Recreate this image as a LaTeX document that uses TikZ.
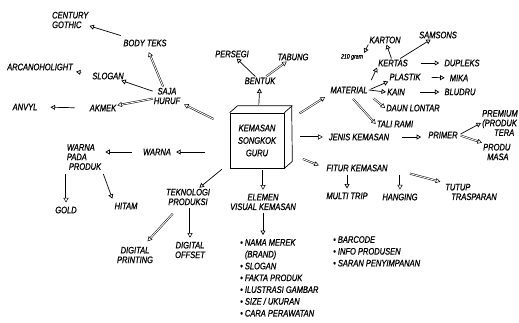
\documentclass[tikz,border=0pt]{standalone}
\usepackage{fontspec}
\setmainfont[FakeStretch=0.8, FakeBold=0.8]{Liberation Sans}
\usetikzlibrary{arrows.meta,calc}
\begin{document}
\begin{tikzpicture}[x=1pt,y=-1pt,
  t/.style={font=\fontsize{9.4}{9.6}\selectfont\itshape, inner sep=1pt, align=center},
  tl/.style={t, align=left},
  ha/.style={-{Triangle[open,length=4.5pt,width=5pt]}, line width=0.7pt},
  da/.style={ha, double, double distance=0.9pt, line width=0.5pt},
]
\useasboundingbox (0,0) rectangle (519,322);
% central box
\node[draw, line width=0.7pt, minimum width=54pt, minimum height=55pt, inner sep=0pt,
      font=\fontsize{9.4}{12.5}\selectfont\itshape, align=center] (box) at (257,140.5)
      {KEMASAN\\SONGKOK\\GURU};
\draw[line width=0.7pt] (box.north west) -- ++(8,-7) -- ++(54,0) -- ($(box.south east)+(8,-7)$) -- (box.south east);
\draw[line width=0.7pt] (box.north east) -- ++(8,-7);
% left-top branch
\node[tl, anchor=west] (century) at (51,20) {CENTURY\\GOTHIC};
\node[t] (body) at (145,43) {BODY TEKS};
\node[t] (arcano) at (40,67) {ARCANOHOLIGHT};
\node[t] (slogana) at (108,76) {SLOGAN};
\node[t] (saja) at (167,96) {SAJA\\HURUF};
\node[t] (anvyl) at (25,107) {ANVYL};
\node[t] (akmek) at (103,108) {AKMEK};
% top
\node[t] (persegi) at (232,54) {PERSEGI};
\node[t] (tabung) at (293,57) {TABUNG};
\node[t] (bentuk) at (260,81) {BENTUK};
% material branch
\node[t] (material) at (349,90) {MATERIAL};
\node[t] (karton) at (385,40) {KARTON};
\node[t] (samsons) at (438,35) {SAMSONS};
\node[t, font=\fontsize{6.5}{6.5}\selectfont\itshape] (gram) at (352,57) {210 gram};
\node[t] (kertas) at (393,63) {KERTAS};
\node[t] (dupleks) at (462,63) {DUPLEKS};
\node[t] (plastik) at (405,77) {PLASTIK};
\node[t] (mika) at (459,78) {MIKA};
\node[t] (kain) at (396,92) {KAIN};
\node[t] (bludru) at (460,92) {BLUDRU};
\node[t] (daun) at (413,108) {DAUN LONTAR};
\node[t] (tali) at (395,124) {TALI RAMI};
% jenis branch
\node[t] (jenis) at (359,137) {JENIS KEMASAN};
\node[t] (primer) at (443,135) {PRIMER};
\node[tl, anchor=west] (premium) at (481,123) {PREMIUM\\(PRODUK\\\hspace*{12pt}TERA};
\node[tl, anchor=west] (produk) at (482,152) {PRODU\\\hspace*{4pt}MASA};
% fitur branch
\node[t] (fitur) at (357,168) {FITUR KEMASAN};
\node[t] (multi) at (347,196) {MULTI TRIP};
\node[t] (hanging) at (400,197) {HANGING};
\node[tl] (tutup) at (471,192) {TUTUP\\\hspace*{6pt}TRASPARAN};
% elemen branch
\node[t] (elemen) at (263,202) {ELEMEN\\VISUAL KEMASAN};
\node[tl, anchor=north west, font=\fontsize{9.4}{11.8}\selectfont\itshape] (lista) at (239,238)
  {• NAMA MEREK\\\phantom{• }(BRAND)\\• SLOGAN\\• FAKTA PRODUK\\• ILUSTRASI GAMBAR\\• SIZE / UKURAN\\• CARA PERAWATAN};
\node[tl, anchor=north west, font=\fontsize{9.4}{11.8}\selectfont\itshape] (listb) at (332,235)
  {• BARCODE\\• INFO PRODUSEN\\• SARAN PENYIMPANAN};
% teknologi branch
\node[t] (tekno) at (188,197) {TEKNOLOGI\\PRODUKSI};
\node[t] (dprint) at (135,255) {DIGITAL\\PRINTING};
\node[t] (doffset) at (190,250) {DIGITAL\\OFFSET};
% warna branch
\node[t] (warna) at (157,152) {WARNA};
\node[tl] (wpp) at (84,157) {WARNA\\PADA\\\hspace*{2pt}PRODUK};
\node[t] (gold) at (66,210) {GOLD};
\node[t] (hitam) at (126,206) {HITAM};

% arrows left-top
\draw[ha, shorten <=10pt] (body) -- (century);
\draw[da, shorten >=5pt] (saja) -- (body);
\draw[ha] (saja) -- (slogana);
\draw[da] (saja) -- (akmek);
\draw[ha, shorten <=10pt, shorten >=2pt] (slogana) -- (arcano.south east);
\draw[ha, shorten <=14pt, shorten >=12pt] (akmek.west) -- (anvyl.east);
\draw[da, shorten <=18pt, shorten >=3pt] (box) -- (saja);
% top
\draw[ha, shorten <=8pt, shorten >=3pt] (box) -- (bentuk);
\draw[ha] (bentuk) -- (persegi);
\draw[da] (bentuk) -- (tabung);
% material
\draw[da, shorten <=18pt, shorten >=5pt] (box) -- (material.south west);
\draw[ha, shorten <=6pt] (material.north east) -- (kertas.south west);
\draw[ha] (kertas) -- (karton);
\draw[ha] (karton.south west) -- (gram.north east);
\draw[ha] (kertas) -- (samsons);
\draw[ha, shorten <=12pt, shorten >=4pt] (kertas.east) -- (dupleks.west);
\draw[ha, shorten <=2pt] (material.east) -- (plastik.south west);
\draw[ha, shorten <=10pt, shorten >=4pt] (plastik.east) -- (mika.west);
\draw[ha] (material.east) -- (kain.west);
\draw[ha, shorten <=14pt, shorten >=4pt] (kain.east) -- (bludru.west);
\draw[da, shorten <=6pt] (material.south east) -- (daun.west);
\draw[da, shorten <=6pt] (material.south) -- (tali.west);
% jenis
\draw[da, shorten <=16pt, shorten >=5pt] (box.east |- jenis) -- (jenis.west);
\draw[ha, shorten <=12pt, shorten >=6pt] (jenis.east) -- (primer.west |- jenis);
\draw[ha, shorten <=2pt] (primer.east) -- (premium.west);
\draw[da, shorten <=2pt] (primer.east) -- (produk.north west);
% fitur
\draw[da, shorten <=20pt, shorten >=7pt] (box) -- (fitur.west);
\draw[ha, shorten <=2pt, shorten >=3pt] (fitur.south -| multi) -- (multi.north);
\draw[da, shorten <=2pt, shorten >=3pt] (fitur.south -| hanging) -- (hanging.north);
\draw[da, shorten <=22pt, shorten >=4pt] (fitur.east) -- (tutup.north west);
% elemen
\draw[da, shorten <=2pt, shorten >=3pt] (box.south -| elemen) -- (elemen.north);
\draw[ha, shorten <=2pt, shorten >=3pt] (elemen.south) -- (elemen.south |- lista.north);
% teknologi
\draw[ha, shorten <=10pt] (box) -- (tekno);
\draw[da, shorten <=10pt, shorten >=6pt] (tekno) -- (dprint);
\draw[da, shorten <=2pt, shorten >=3pt] (tekno.south -| doffset) -- (doffset.north);
% warna
\draw[ha, shorten <=25pt, shorten >=4pt] (box.west |- warna) -- (warna.east);
\draw[ha, shorten <=10pt, shorten >=3pt] (warna.west) -- (wpp.east |- warna);
\draw[da, shorten <=3pt, shorten >=3pt] (wpp.south -| gold) -- (gold.north);
\draw[ha, shorten <=3pt, shorten >=3pt] (wpp.south east) -- (hitam.north west);
\end{tikzpicture}
\end{document}
